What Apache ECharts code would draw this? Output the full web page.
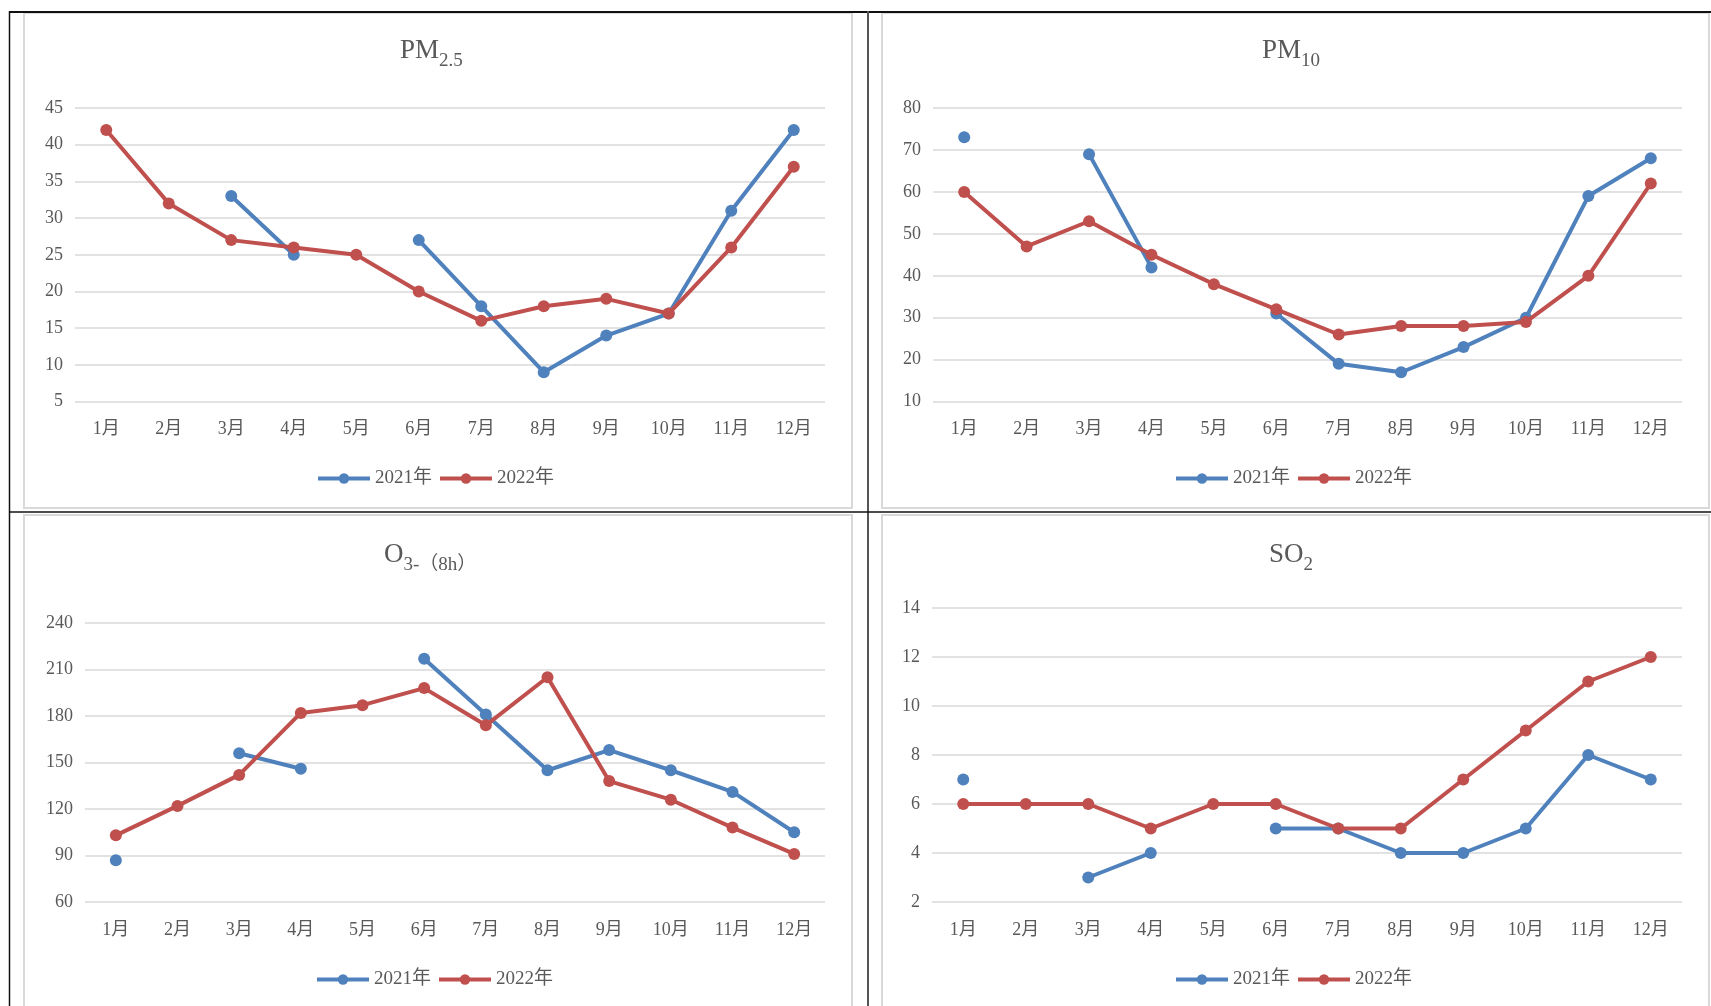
<!DOCTYPE html>
<html>
<head>
<meta charset="utf-8">
<script src="https://cdn.jsdelivr.net/npm/echarts@6/dist/echarts.min.js"></script>
<style>
html,body{margin:0;padding:0;background:#ffffff;}
#c{width:1711px;height:1006px;}
</style>
</head>
<body>
<div id="c"></div>
<script>
// ---- data ----
const months = ['1月','2月','3月','4月','5月','6月','7月','8月','9月','10月','11月','12月'];
const seriesNames = ['2021年','2022年'];

const pm25_2021 = [null, null, 33, 25, null, 27, 18, 9, 14, 17, 31, 42];
const pm25_2022 = [42, 32, 27, 26, 25, 20, 16, 18, 19, 17, 26, 37];

const pm10_2021 = [73, null, 69, 42, null, 31, 19, 17, 23, 30, 59, 68];
const pm10_2022 = [60, 47, 53, 45, 38, 32, 26, 28, 28, 29, 40, 62];

const o3_2021 = [87, null, 156, 146, null, 217, 181, 145, 158, 145, 131, 105];
const o3_2022 = [103, 122, 142, 182, 187, 198, 174, 205, 138, 126, 108, 91];

const so2_2021 = [7, null, 3, 4, null, 5, 5, 4, 4, 5, 8, 7];
const so2_2022 = [6, 6, 6, 5, 6, 6, 5, 5, 7, 9, 11, 12];

// y-axis ticks: [min, max, interval]
const pm25Ticks = [5, 45, 5];
const pm10Ticks = [10, 80, 10];
const o3Ticks = [60, 240, 30];
const so2Ticks = [2, 14, 2];

// titles: [main, subscript]
const pm25Title = ['PM', '2.5'];
const pm10Title = ['PM', '10'];
const o3Title = ['O', '3-（8h）'];
const so2Title = ['SO', '2'];

// ---- layout / style ----
const SERIF = '"Liberation Serif","Times New Roman","Noto Sans CJK SC",serif';
const TXT = '#595959';
const GRIDC = '#d9d9d9';
const BLUE = '#4f81bd';
const RED = '#c0504d';
const colors = [BLUE, RED];

const panels = [
  {t: pm25Title, ticks: pm25Ticks, d: [pm25_2021, pm25_2022], titleLeft: 400, titleTop: 44,
   grid: {left: 75, top: 108, width: 750, height: 293.6}, legendLeft: 316, legendTop: 469},
  {t: pm10Title, ticks: pm10Ticks, d: [pm10_2021, pm10_2022], titleLeft: 1262, titleTop: 44,
   grid: {left: 933, top: 108, width: 749, height: 293.6}, legendLeft: 1174, legendTop: 469},
  {t: o3Title, ticks: o3Ticks, d: [o3_2021, o3_2022], titleLeft: 384, titleTop: 548,
   grid: {left: 85, top: 623, width: 740, height: 279}, legendLeft: 315, legendTop: 970},
  {t: so2Title, ticks: so2Ticks, d: [so2_2021, so2_2022], titleLeft: 1269, titleTop: 548,
   grid: {left: 932, top: 608, width: 750, height: 294}, legendLeft: 1174, legendTop: 970}
];

const chart = echarts.init(document.getElementById('c'), null, {renderer: 'canvas'});

const title = [], grid = [], xAxis = [], yAxis = [], legend = [], series = [];
panels.forEach((p, i) => {
  title.push({
    text: '{m|' + p.t[0] + '}{s|' + p.t[1] + '}',
    left: p.titleLeft, top: p.titleTop, padding: 0,
    textStyle: {
      fontWeight: 'normal',
      rich: {
        m: {fontFamily: SERIF, fontSize: 27, lineHeight: 27, fontWeight: 'normal', color: TXT,
            verticalAlign: 'bottom', padding: [0, 0, 7, 0]},
        s: {fontFamily: SERIF, fontSize: 19, lineHeight: 19, fontWeight: 'normal', color: TXT,
            verticalAlign: 'bottom'}
      }
    }
  });
  grid.push(Object.assign({containLabel: false}, p.grid));
  xAxis.push({
    type: 'category', gridIndex: i, data: months, boundaryGap: true,
    axisLine: {show: false}, axisTick: {show: false},
    axisLabel: {color: TXT, fontFamily: SERIF, fontSize: 18, margin: 19}
  });
  yAxis.push({
    type: 'value', gridIndex: i, min: p.ticks[0], max: p.ticks[1], interval: p.ticks[2],
    axisLine: {show: false}, axisTick: {show: false},
    axisLabel: {color: TXT, fontFamily: SERIF, fontSize: 18, margin: 12},
    splitLine: {show: true, lineStyle: {color: GRIDC, width: 1.5}}
  });
  legend.push({
    left: p.legendLeft, top: p.legendTop, padding: 0,
    data: seriesNames.map(n => ({name: n})),
    itemWidth: 52, itemHeight: 13, itemGap: 6,
    lineStyle: {width: 4},
    textStyle: {color: TXT, fontFamily: SERIF, fontSize: 19, padding: [2, 0, 0, 0]},
    selectedMode: false
  });
  p.d.forEach((arr, k) => {
    series.push({
      name: seriesNames[k], type: 'line', xAxisIndex: i, yAxisIndex: i,
      data: arr, connectNulls: false,
      symbol: 'circle', symbolSize: 12, showSymbol: true,
      lineStyle: {color: colors[k], width: 4},
      itemStyle: {color: colors[k]},
      emphasis: {disabled: true},
      animation: false,
      z: k === 1 ? 3 : 2
    });
  });
});

// panel frames
const graphic = [
  {type: 'rect', shape: {x: 24, y: 13, width: 828, height: 495}, style: {fill: null, stroke: GRIDC, lineWidth: 2}, silent: true},
  {type: 'rect', shape: {x: 882, y: 13, width: 827, height: 495}, style: {fill: null, stroke: GRIDC, lineWidth: 2}, silent: true},
  {type: 'rect', shape: {x: 24, y: 515, width: 828, height: 500}, style: {fill: null, stroke: GRIDC, lineWidth: 2}, silent: true},
  {type: 'rect', shape: {x: 882, y: 515, width: 827, height: 500}, style: {fill: null, stroke: GRIDC, lineWidth: 2}, silent: true},
  {type: 'line', shape: {x1: 9, y1: 12, x2: 1711, y2: 12}, style: {stroke: '#111', lineWidth: 2}, silent: true},
  {type: 'line', shape: {x1: 9.5, y1: 11, x2: 9.5, y2: 1006}, style: {stroke: '#111', lineWidth: 1.5}, silent: true},
  {type: 'line', shape: {x1: 868, y1: 11, x2: 868, y2: 1006}, style: {stroke: '#555', lineWidth: 2}, silent: true},
  {type: 'line', shape: {x1: 9, y1: 512, x2: 1711, y2: 512}, style: {stroke: '#111', lineWidth: 1.5}, silent: true}
];

chart.setOption({
  backgroundColor: '#ffffff',
  animation: false,
  title, grid, xAxis, yAxis, legend, series, graphic
});
</script>
</body>
</html>
